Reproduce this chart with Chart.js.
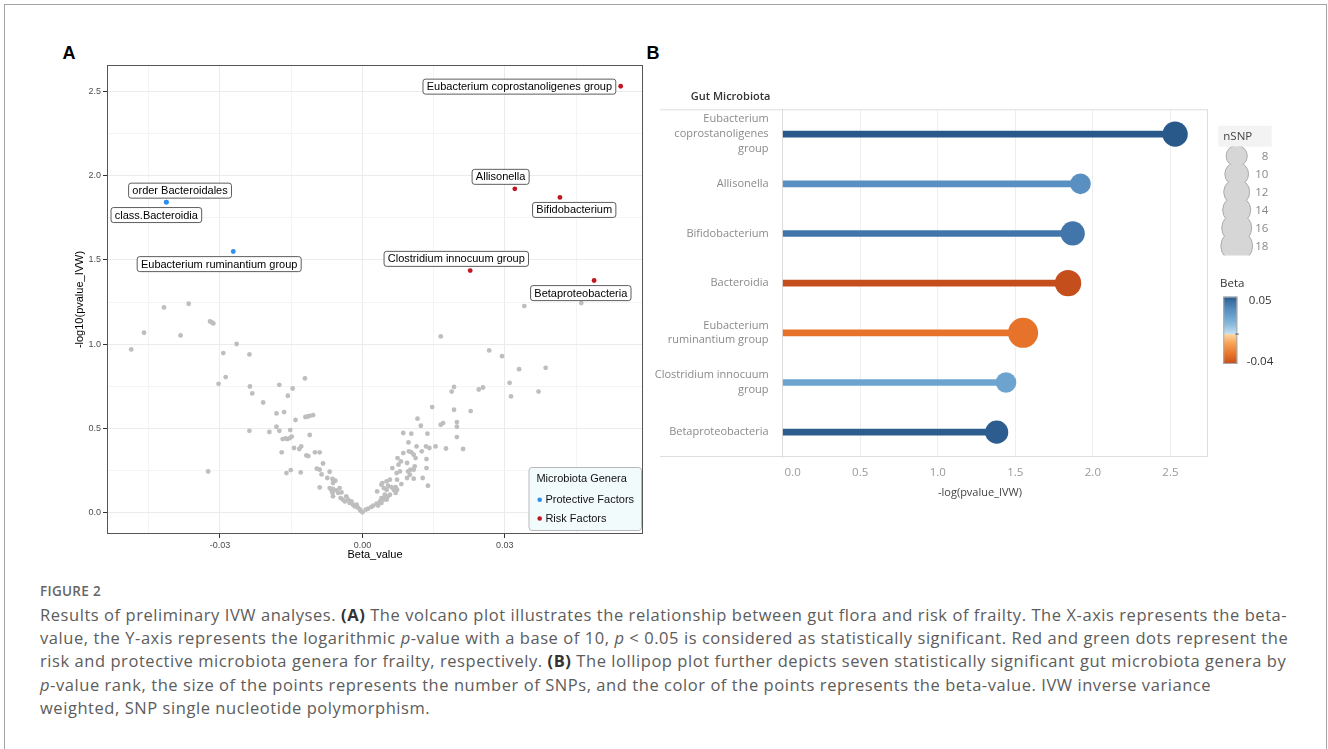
<!DOCTYPE html>
<html>
<head>
<meta charset="utf-8">
<title>Figure 2</title>
<script src="https://cdn.jsdelivr.net/npm/chart.js@4.4.1/dist/chart.umd.min.js"></script>
<style>
  html, body { margin: 0; padding: 0; background: #fff; }
  body { width: 1328px; height: 749px; position: relative; overflow: hidden; font-family: "Open Sans", sans-serif; }
  .frame { position: absolute; left: 4px; top: 4px; width: 1323px; height: 770px; border: 1px solid #a3a3a3; box-sizing: border-box; }
  .tag { position: absolute; top: 43.5px; font: bold 18px/18px "Liberation Sans", Arial, sans-serif; color: #000; }
  #volcano { position: absolute; left: 40px; top: 30px; }
  #lollipop { position: absolute; left: 640px; top: 30px; }
  .cap-head { position: absolute; left: 40px; top: 582px; font-size: 13.5px; line-height: 18px; font-weight: 600; color: #666; letter-spacing: 0.3px; }
  .cap { position: absolute; left: 40px; top: 603px; font-size: 16.5px; line-height: 23.2px; letter-spacing: 0.56px; color: #5c5c5c; white-space: nowrap; }
  .cap b { color: #333; }
</style>
</head>
<body>
<div class="frame"></div>
<div class="tag" style="left:62.5px">A</div>
<div class="tag" style="left:646.5px">B</div>
<canvas id="volcano" width="620" height="545"></canvas>
<canvas id="lollipop" width="688" height="500"></canvas>
<div class="cap-head">FIGURE 2</div>
<div class="cap">
<div>Results of preliminary IVW analyses. <b>(A)</b> The volcano plot illustrates the relationship between gut flora and risk of frailty. The X-axis represents the beta-</div>
<div>value, the Y-axis represents the logarithmic <i>p</i>-value with a base of 10, <i>p</i> &lt; 0.05 is considered as statistically significant. Red and green dots represent the</div>
<div>risk and protective microbiota genera for frailty, respectively. <b>(B)</b> The lollipop plot further depicts seven statistically significant gut microbiota genera by</div>
<div><i>p</i>-value rank, the size of the points represents the number of SNPs, and the color of the points represents the beta-value. IVW inverse variance</div>
<div>weighted, SNP single nucleotide polymorphism.</div>
</div>

<script>
// ---- panel A: every taxon that was tested (grey) ----
const betaAll = [
  -0.0487, -0.0460, -0.0418, -0.0383, -0.0366, -0.0321, -0.0317, -0.0314, -0.0325, -0.0293,
  -0.0265, -0.0303, -0.0288, -0.0238, -0.0237, -0.0232, -0.0238, -0.0209, -0.0196, -0.0181,
  -0.0181, -0.0175, -0.0175, -0.0165, -0.0170, -0.0168, -0.0162, -0.0158, -0.0153, -0.0149,
  -0.0152, -0.0157, -0.0147, -0.0160, -0.0151, -0.0144, -0.0133, -0.0129, -0.0141, -0.0130,
  -0.0121, -0.0120, -0.0115, -0.0111, -0.0104, -0.0111, -0.0118, -0.0114, -0.0100, -0.0090,
  -0.0083, -0.0096, -0.0090, -0.0086, -0.0090, -0.0069, -0.0074, -0.0063, -0.0057, -0.0062,
  -0.0069, -0.0065, -0.0062, -0.0055, -0.0048, -0.0063, -0.0051, -0.0044, -0.0062, -0.0046,
  -0.0041, -0.0034, -0.0030, -0.0037, -0.0027, -0.0020, -0.0023, -0.0016, -0.0009, -0.0012,
  -0.0005, 0.0000, -0.0004, 0.0007, 0.0012, 0.0019, 0.0023, 0.0030, 0.0033, 0.0037,
  0.0040, 0.0044, 0.0047, 0.0051, 0.0054, 0.0040, 0.0047, 0.0058, 0.0031, 0.0040,
  0.0045, 0.0051, 0.0054, 0.0061, 0.0070, 0.0070, 0.0051, 0.0058, 0.0066, 0.0073,
  0.0073, 0.0063, 0.0072, 0.0079, 0.0076, 0.0081, 0.0074, 0.0086, 0.0094, 0.0096,
  0.0101, 0.0108, 0.0094, 0.0108, 0.0100, 0.0110, 0.0112, 0.0086, 0.0097, 0.0098,
  0.0103, 0.0108, 0.0103, 0.0116, 0.0123, 0.0114, 0.0125, 0.0134, 0.0135, 0.0137,
  0.0141, 0.0138, 0.0127, 0.0147, 0.0154, 0.0165, 0.0170, 0.0176, 0.0165, 0.0267,
  0.0294, 0.0330, 0.0386, 0.0341, 0.0461, 0.0310, 0.0313, 0.0371, 0.0188, 0.0193,
  0.0245, 0.0254, 0.0193, 0.0228, 0.0199, 0.0199, 0.0199, 0.0212, 0.0082, 0.0042,
  0.0135
];
const logpAll = [
  0.969, 1.068, 1.218, 1.052, 1.240, 1.135, 1.129, 1.123, 0.245, 0.947,
  1.001, 0.765, 0.805, 0.939, 0.749, 0.708, 0.486, 0.654, 0.479, 0.589,
  0.510, 0.486, 0.759, 0.597, 0.358, 0.437, 0.441, 0.437, 0.443, 0.451,
  0.490, 0.694, 0.737, 0.235, 0.253, 0.384, 0.378, 0.393, 0.550, 0.239,
  0.797, 0.568, 0.571, 0.575, 0.579, 0.461, 0.340, 0.336, 0.358, 0.358,
  0.292, 0.261, 0.255, 0.227, 0.150, 0.243, 0.206, 0.200, 0.190, 0.176,
  0.146, 0.132, 0.141, 0.132, 0.146, 0.117, 0.117, 0.120, 0.097, 0.087,
  0.077, 0.097, 0.077, 0.067, 0.058, 0.047, 0.067, 0.037, 0.028, 0.047,
  0.018, 0.002, 0.012, 0.018, 0.024, 0.034, 0.042, 0.053, 0.042, 0.067,
  0.058, 0.077, 0.087, 0.077, 0.097, 0.087, 0.107, 0.107, 0.126, 0.166,
  0.146, 0.136, 0.160, 0.152, 0.152, 0.117, 0.186, 0.196, 0.136, 0.196,
  0.136, 0.265, 0.235, 0.245, 0.285, 0.304, 0.324, 0.354, 0.295, 0.245,
  0.255, 0.255, 0.206, 0.202, 0.225, 0.275, 0.324, 0.473, 0.417, 0.364,
  0.358, 0.344, 0.469, 0.558, 0.516, 0.393, 0.364, 0.393, 0.318, 0.469,
  0.384, 0.160, 0.206, 0.627, 0.393, 0.522, 0.532, 0.381, 1.046, 0.963,
  0.929, 0.852, 0.860, 1.226, 1.244, 0.771, 0.690, 0.719, 0.719, 0.746,
  0.731, 0.743, 0.611, 0.603, 0.538, 0.510, 0.449, 0.378, 0.170, 0.176,
  0.265
];

// significant taxa
const protectiveNames = ['order Bacteroidales', 'class.Bacteroidia', 'Eubacterium ruminantium group'];
const protectiveBeta = [-0.0413, -0.0413, -0.0272];
const protectiveLogp = [1.843, 1.843, 1.550];

const riskNames = ['Eubacterium coprostanoligenes group', 'Allisonella', 'Bifidobacterium', 'Clostridium innocuum group', 'Betaproteobacteria'];
const riskBeta = [0.0544, 0.0321, 0.0416, 0.0227, 0.0488];
const riskLogp = [2.531, 1.922, 1.871, 1.437, 1.378];

// ---- panel B: lollipop ----
const gutNames = [
  ['Eubacterium', 'coprostanoligenes', 'group'],
  'Allisonella',
  'Bifidobacterium',
  'Bacteroidia',
  ['Eubacterium', 'ruminantium group'],
  ['Clostridium innocuum', 'group'],
  'Betaproteobacteria'
];
const gutLogp = [2.53, 1.92, 1.87, 1.84, 1.55, 1.44, 1.38];
const gutBeta = [0.0544, 0.0321, 0.0416, -0.0413, -0.0272, 0.0227, 0.0488];
const gutNsnp = [12, 8, 11, 13, 17, 8, 10];
const xTicksB = [0, 0.5, 1, 1.5, 2, 2.5];
const nsnpLegend = [8, 10, 12, 14, 16, 18];
const betaLegend = [0.05, -0.04];

// ---- styling ----
const GREY = '#bebebe';
const BLUE = '#2b8ff0';
const RED = '#c0161f';
const SANS = '"Liberation Sans", Arial, sans-serif';
const TAB = '"Open Sans", sans-serif';

// label box offsets (px) from each point, same order as protective + risk
const labelShift = [
  [13.7, -11.5], [-10, 12.9], [-14.1, 12.6],
  [-101.3, 0.4], [-14.2, -12], [14.3, 12.5], [-13.9, -11.7], [-13.3, 12.6]
];

// orange - blue diverging ramp used for beta
const betaStops = [
  [-0.04, [196, 78, 28]],
  [-0.027, [232, 116, 42]],
  [-0.012, [248, 163, 84]],
  [-0.0005, [253, 214, 163]],
  [0.0005, [196, 224, 241]],
  [0.012, [142, 189, 223]],
  [0.0227, [108, 163, 207]],
  [0.032, [89, 143, 193]],
  [0.0416, [66, 118, 170]],
  [0.05, [41, 89, 139]]
];

function betaColor(b) {
  if (b <= betaStops[0][0]) return 'rgb(' + betaStops[0][1].join(',') + ')';
  for (let i = 1; i < betaStops.length; i++) {
    const [v1, c1] = betaStops[i];
    if (b <= v1) {
      const [v0, c0] = betaStops[i - 1];
      const t = (b - v0) / (v1 - v0);
      const c = c0.map((c, k) => Math.round(c + (c1[k] - c) * t));
      return 'rgb(' + c.join(',') + ')';
    }
  }
  return 'rgb(' + betaStops[betaStops.length - 1][1].join(',') + ')';
}

function isMajor(v, step) {
  return Math.abs(v / step - Math.round(v / step)) < 1e-6;
}

function roundRect(ctx, x, y, w, h, r) {
  ctx.beginPath();
  ctx.moveTo(x + r, y);
  ctx.lineTo(x + w - r, y);
  ctx.arcTo(x + w, y, x + w, y + r, r);
  ctx.lineTo(x + w, y + h - r);
  ctx.arcTo(x + w, y + h, x + w - r, y + h, r);
  ctx.lineTo(x + r, y + h);
  ctx.arcTo(x, y + h, x, y + h - r, r);
  ctx.lineTo(x, y + r);
  ctx.arcTo(x, y, x + r, y, r);
  ctx.closePath();
}

// labels, legend and panel border for the volcano plot
const volcanoExtras = {
  id: 'volcanoExtras',
  afterDraw(chart) {
    const { ctx, chartArea: area } = chart;
    const sx = chart.scales.x, sy = chart.scales.y;
    const names = protectiveNames.concat(riskNames);
    const betas = protectiveBeta.concat(riskBeta);
    const logps = protectiveLogp.concat(riskLogp);
    ctx.save();
    ctx.font = '11px ' + SANS;
    ctx.textAlign = 'center';
    ctx.textBaseline = 'middle';
    names.forEach((name, i) => {
      const cx = sx.getPixelForValue(betas[i]) + labelShift[i][0];
      const cy = sy.getPixelForValue(logps[i]) + labelShift[i][1];
      const w = ctx.measureText(name).width + 7.5;
      const h = 15;
      roundRect(ctx, cx - w / 2, cy - h / 2, w, h, 2.5);
      ctx.fillStyle = '#fff';
      ctx.fill();
      ctx.strokeStyle = '#333';
      ctx.lineWidth = 0.8;
      ctx.stroke();
      ctx.fillStyle = '#000';
      ctx.fillText(name, cx, cy + 0.5);
    });

    // legend
    const lw = 112.5, lh = 63;
    const lx = area.right - 1.5 - lw, ly = area.bottom - 3.5 - lh;
    roundRect(ctx, lx, ly, lw, lh, 3);
    ctx.fillStyle = '#f2fbfb';
    ctx.fill();
    ctx.strokeStyle = '#b8b8b8';
    ctx.lineWidth = 1;
    ctx.stroke();
    ctx.textAlign = 'left';
    ctx.fillStyle = '#111';
    ctx.fillText('Microbiota Genera', lx + 7.4, ly + 11.8);
    [['Protective Factors', BLUE], ['Risk Factors', RED]].forEach(([t, c], k) => {
      const yy = ly + 32.3 + k * 18.7;
      ctx.beginPath();
      ctx.arc(lx + 10.7, yy, 2.3, 0, Math.PI * 2);
      ctx.fillStyle = c;
      ctx.fill();
      ctx.fillStyle = '#111';
      ctx.fillText(t, lx + 16.4, yy + 0.5);
    });

    // panel border
    ctx.strokeStyle = '#555';
    ctx.lineWidth = 1;
    ctx.strokeRect(area.left + 0.5, area.top + 0.5, area.width - 1, area.height - 1);
    ctx.restore();
  }
};

const toPoints = (bs, ps) => bs.map((b, i) => ({ x: b, y: ps[i] }));

new Chart(document.getElementById('volcano'), {
  type: 'scatter',
  data: {
    datasets: [
      { data: toPoints(riskBeta, riskLogp), pointRadius: 2.4, pointBackgroundColor: RED, pointBorderWidth: 0 },
      { data: toPoints(protectiveBeta, protectiveLogp), pointRadius: 2.4, pointBackgroundColor: BLUE, pointBorderWidth: 0 },
      { data: toPoints(betaAll, logpAll), pointRadius: 2.4, pointBackgroundColor: GREY, pointBorderWidth: 0 }
    ]
  },
  options: {
    responsive: false,
    animation: false,
    events: [],
    layout: { padding: { left: 30, top: 35, right: 17, bottom: 0 } },
    plugins: { legend: { display: false }, tooltip: { enabled: false } },
    scales: {
      x: {
        type: 'linear',
        min: -0.0538,
        max: 0.0591,
        afterFit: (s) => { s.height = 41; },
        ticks: {
          stepSize: 0.015, includeBounds: false, autoSkip: false, maxRotation: 0, padding: 2,
          color: '#4d4d4d', font: { family: SANS, size: 9 },
          callback: (v) => isMajor(v, 0.03) ? v.toFixed(2) : ''
        },
        grid: {
          color: (c) => isMajor(c.tick.value, 0.03) ? '#ebebeb' : '#f4f4f4',
          tickColor: (c) => isMajor(c.tick.value, 0.03) ? '#333' : 'rgba(0,0,0,0)',
          tickLength: 4
        },
        border: { display: false },
        title: { display: true, text: 'Beta_value', color: '#000', font: { family: SANS, size: 11 }, padding: { top: 0, bottom: 13.4 } }
      },
      y: {
        type: 'linear',
        min: -0.1265,
        max: 2.657,
        afterFit: (s) => { s.width = 37; },
        ticks: {
          stepSize: 0.25, includeBounds: false, autoSkip: false, padding: 2,
          color: '#4d4d4d', font: { family: SANS, size: 9 },
          callback: (v) => isMajor(v, 0.5) ? v.toFixed(1) : ''
        },
        grid: {
          color: (c) => isMajor(c.tick.value, 0.5) ? '#ebebeb' : '#f4f4f4',
          tickColor: (c) => isMajor(c.tick.value, 0.5) ? '#333' : 'rgba(0,0,0,0)',
          tickLength: 4
        },
        border: { display: false },
        title: { display: true, text: '-log10(pvalue_IVW)', color: '#000', font: { family: SANS, size: 11 }, padding: { top: 3, bottom: 0 } }
      }
    }
  },
  plugins: [volcanoExtras]
});

// header, frame lines, x labels and both legends for the lollipop plot
const lollipopExtras = {
  id: 'lollipopExtras',
  afterDraw(chart) {
    const { ctx, chartArea: a } = chart;
    const sx = chart.scales.x;
    ctx.save();

    ctx.strokeStyle = '#dedede';
    ctx.lineWidth = 1;
    ctx.beginPath();
    ctx.moveTo(20, a.top + 0.5); ctx.lineTo(a.right, a.top + 0.5);
    ctx.moveTo(a.right - 0.5, a.top); ctx.lineTo(a.right - 0.5, a.bottom);
    ctx.moveTo(20, a.bottom - 0.5); ctx.lineTo(a.right, a.bottom - 0.5);
    ctx.stroke();

    ctx.textBaseline = 'middle';
    ctx.textAlign = 'center';
    ctx.font = '600 11px ' + TAB;
    ctx.fillStyle = '#333';
    ctx.fillText('Gut Microbiota', a.left - 52, a.top - 12);

    // x tick labels, kept inside the pane like Tableau does
    ctx.font = '11.5px ' + TAB;
    ctx.fillStyle = '#999';
    ctx.textAlign = 'left';
    xTicksB.forEach((v) => {
      const t = v.toFixed(1);
      const w = ctx.measureText(t).width;
      let left = sx.getPixelForValue(v) - w / 2;
      if (left < a.left + 2) left = a.left + 2;
      ctx.fillText(t, left, a.bottom + 15.7);
    });
    ctx.textAlign = 'center';
    ctx.font = '11px ' + TAB;
    ctx.fillStyle = '#444';
    ctx.fillText('-log(pvalue_IVW)', 340, a.bottom + 35.7);

    // nSNP legend
    const lx = a.right + 10.3;
    ctx.fillStyle = '#f3f3f3';
    ctx.fillRect(lx, 95.7, 53.4, 21);
    ctx.textAlign = 'left';
    ctx.font = '11.5px ' + TAB;
    ctx.fillStyle = '#444';
    ctx.fillText('nSNP', lx + 5, 106.4);
    nsnpLegend.forEach((n, i) => {
      const cy = 126 + i * 18;
      const r = 3.75 * Math.sqrt(n);
      ctx.save();
      ctx.beginPath();
      ctx.rect(lx, cy - 9.5, 40, 19);
      ctx.clip();
      ctx.beginPath();
      ctx.arc(lx + 18.4, cy, r, 0, Math.PI * 2);
      ctx.fillStyle = '#d6d6d6';
      ctx.fill();
      ctx.strokeStyle = '#acacac';
      ctx.lineWidth = 1;
      ctx.stroke();
      ctx.restore();
      ctx.textAlign = 'right';
      ctx.fillStyle = '#888';
      ctx.fillText(String(n), lx + 50, cy + 0.5);
    });

    // Beta colour legend
    ctx.textAlign = 'left';
    ctx.fillStyle = '#333';
    ctx.font = '11.5px ' + TAB;
    ctx.fillText('Beta', lx + 1.7, 253.3);
    const bx = lx + 5, by = 266.7, bw = 14, bh = 67.3;
    const hi = betaLegend[0], lo = betaLegend[1];
    const grad = ctx.createLinearGradient(0, by, 0, by + bh);
    betaStops.forEach(([v]) => {
      const p = (hi - v) / (hi - lo);
      if (p >= 0 && p <= 1) grad.addColorStop(p, betaColor(v));
    });
    ctx.fillStyle = grad;
    ctx.fillRect(bx, by, bw, bh);
    ctx.strokeStyle = '#aaa';
    ctx.strokeRect(bx + 0.5, by + 0.5, bw - 1, bh - 1);
    const zy = by + bh * hi / (hi - lo);
    ctx.strokeStyle = '#555';
    ctx.beginPath();
    ctx.moveTo(bx + bw - 2, zy); ctx.lineTo(bx + bw + 1.5, zy);
    ctx.stroke();
    ctx.fillStyle = '#333';
    ctx.fillText(hi.toFixed(2), bx + 25.5, by + 3.6);
    ctx.fillText(lo.toFixed(2), bx + 23.5, by + bh - 2.7);

    ctx.restore();
  }
};

new Chart(document.getElementById('lollipop'), {
  type: 'bar',
  data: {
    labels: gutNames,
    datasets: [
      {
        type: 'line',
        indexAxis: 'y',
        data: gutLogp,
        showLine: false,
        clip: false,
        pointRadius: (c) => 3.65 * Math.sqrt(gutNsnp[c.dataIndex]),
        pointBackgroundColor: (c) => betaColor(gutBeta[c.dataIndex]),
        pointBorderWidth: 0
      },
      {
        type: 'bar',
        indexAxis: 'y',
        data: gutLogp,
        backgroundColor: gutBeta.map(betaColor),
        barThickness: 6,
        borderWidth: 0
      }
    ]
  },
  options: {
    indexAxis: 'y',
    responsive: false,
    animation: false,
    events: [],
    layout: { padding: { left: 0, top: 79.3, right: 120, bottom: 0 } },
    plugins: { legend: { display: false }, tooltip: { enabled: false } },
    scales: {
      x: {
        type: 'linear',
        min: 0,
        max: 2.742,
        afterFit: (s) => { s.height = 73; },
        ticks: { stepSize: 0.5, includeBounds: false, display: false },
        grid: { color: (c) => c.tick.value === 0 ? 'rgba(0,0,0,0)' : '#eeeeee', drawTicks: false },
        border: { display: false }
      },
      y: {
        type: 'category',
        afterFit: (s) => { s.width = 142.6; },
        ticks: { color: '#8a8a8a', padding: 6, font: { family: TAB, size: 11, lineHeight: 1.35 } },
        grid: { display: false },
        border: { display: true, color: '#dcdcdc' }
      }
    }
  },
  plugins: [lollipopExtras]
});
</script>
</body>
</html>
